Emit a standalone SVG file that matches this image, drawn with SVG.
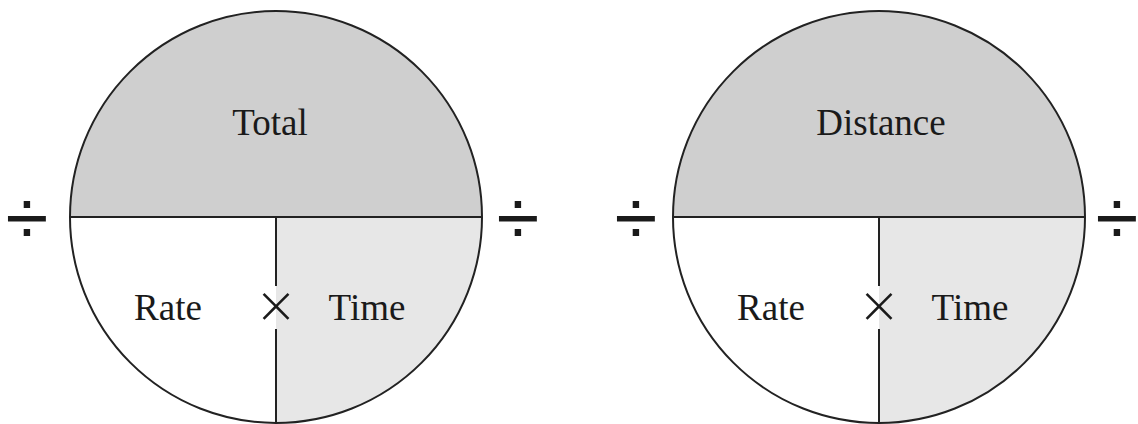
<svg xmlns="http://www.w3.org/2000/svg" width="1138" height="424" viewBox="0 0 1138 424">
<style>
.top{fill:#cfcfcf;stroke:none}
.q{fill:#e7e7e7;stroke:none}
.ln{stroke:#222;stroke-width:2;fill:none}
.t{font-family:"Liberation Serif",serif;font-size:37px;fill:#1a1a1a;text-anchor:middle}
.op{font-family:"Liberation Sans",sans-serif;fill:#1a1a1a;text-anchor:middle}
.x{font-family:Inter,"DejaVu Sans",sans-serif;font-weight:200;fill:#1a1a1a;text-anchor:middle}
</style>
<rect width="1138" height="424" fill="#fff"/>
<g id="circle-total">
<path class="top" d="M70,217 A206,206 0 0 1 482,217 Z"/>
<path class="q" d="M276,217 H482 A206,206 0 0 1 276,423 Z"/>
<circle class="ln" cx="276" cy="217" r="206"/>
<line class="ln" x1="70" y1="217" x2="482" y2="217"/>
<line class="ln" x1="276" y1="217" x2="276" y2="286"/>
<line class="ln" x1="276" y1="329" x2="276" y2="423"/>
<text class="t" x="270" y="135">Total</text>
<text class="t" x="168" y="320">Rate</text>
<text class="t" x="367" y="320">Time</text>
<text class="x" x="276" y="324" font-size="62">×</text>
</g>
<g id="circle-distance">
<path class="top" d="M673,217 A206,206 0 0 1 1085,217 Z"/>
<path class="q" d="M879,217 H1085 A206,206 0 0 1 879,423 Z"/>
<circle class="ln" cx="879" cy="217" r="206"/>
<line class="ln" x1="673" y1="217" x2="1085" y2="217"/>
<line class="ln" x1="879" y1="217" x2="879" y2="286"/>
<line class="ln" x1="879" y1="329" x2="879" y2="423"/>
<text class="t" x="881" y="135">Distance</text>
<text class="t" x="771" y="320">Rate</text>
<text class="t" x="970" y="320">Time</text>
<text class="x" x="879" y="324" font-size="62">×</text>
</g>
<g id="operators">
<text class="op" x="27" y="245" font-size="78">÷</text>
<text class="op" x="518" y="245" font-size="78">÷</text>
<text class="op" x="636" y="245" font-size="78">÷</text>
<text class="op" x="1117" y="245" font-size="78">÷</text>
</g>
<g id="connectors"></g>
</svg>
